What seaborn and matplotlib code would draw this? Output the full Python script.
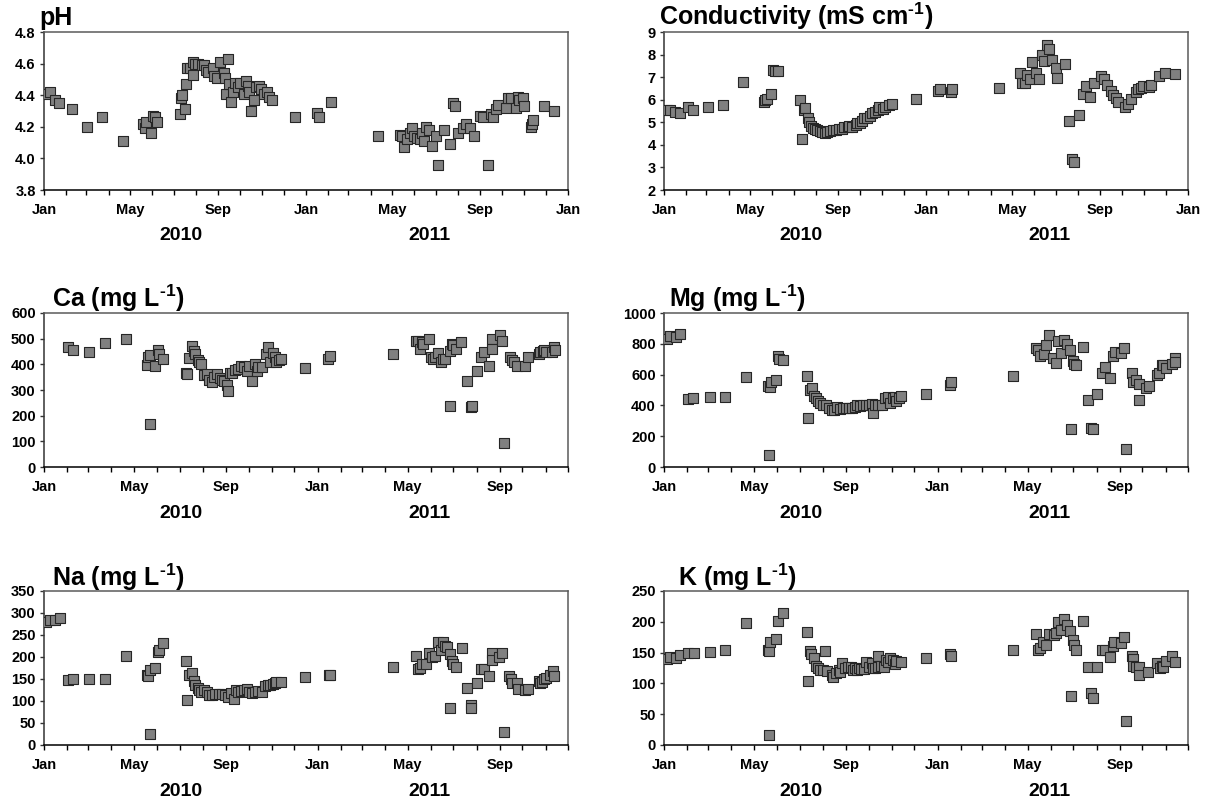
import numpy as np
import pandas as pd
import matplotlib
matplotlib.use("Agg")
import matplotlib.pyplot as plt
import matplotlib.dates as mdates
from matplotlib.ticker import FixedLocator, FormatStrFormatter
import seaborn as sns

# ---------------- data (days since 2010-01-01, values) ----------------
ph_days = [3, 8, 16, 21, 39, 60, 81, 110, 138, 141, 142, 149, 152, 154, 158, 190, 191, 192, 196, 198,
           199, 203, 207, 208, 211, 214, 220, 223, 226, 229, 235, 237, 241, 245, 251, 252, 253, 256, 258, 260,
           263, 266, 270, 273, 278, 281, 284, 285, 289, 293, 296, 299, 303, 306, 310, 313, 317, 349, 380, 383,
           400, 466, 496, 499, 502, 506, 510, 513, 516, 520, 524, 527, 530, 532, 536, 541, 546, 549, 557, 565,
           570, 572, 577, 584, 588, 594, 599, 608, 612, 618, 623, 626, 629, 632, 643, 647, 651, 658, 660, 662,
           668, 669, 678, 680, 681, 696, 711]
ph_vals = [4.41, 4.42, 4.37, 4.35, 4.31, 4.20, 4.26, 4.11, 4.22, 4.19, 4.23, 4.16, 4.27, 4.26, 4.23, 4.28, 4.38, 4.40, 4.31, 4.47,
           4.57, 4.57, 4.53, 4.61, 4.60, 4.60, 4.59, 4.59, 4.56, 4.55, 4.57, 4.52, 4.51, 4.61, 4.54, 4.51, 4.41, 4.63, 4.47, 4.36,
           4.42, 4.48, 4.45, 4.48, 4.41, 4.49, 4.46, 4.42, 4.30, 4.37, 4.45, 4.46, 4.44, 4.41, 4.42, 4.39, 4.37, 4.26, 4.29, 4.26,
           4.36, 4.14, 4.15, 4.14, 4.07, 4.12, 4.16, 4.19, 4.14, 4.13, 4.12, 4.16, 4.11, 4.20, 4.18, 4.08, 4.14, 3.96, 4.18, 4.09,
           4.35, 4.33, 4.16, 4.19, 4.22, 4.19, 4.14, 4.27, 4.26, 3.96, 4.28, 4.26, 4.31, 4.34, 4.32, 4.38, 4.38, 4.32, 4.39, 4.37,
           4.38, 4.33, 4.20, 4.22, 4.24, 4.33, 4.30]

cond_days = [4, 8, 15, 22, 33, 40, 61, 82, 110, 139, 141, 143, 149, 152, 155, 159, 190, 192, 195, 197,
             200, 202, 205, 208, 210, 213, 217, 220, 224, 227, 231, 235, 239, 244, 248, 251, 256, 258, 262, 267,
             269, 273, 276, 279, 283, 287, 290, 294, 298, 300, 305, 308, 313, 317, 351, 382, 385, 400, 401, 467,
             496, 499, 503, 506, 510, 513, 518, 523, 527, 529, 533, 537, 541, 546, 548, 558, 564, 569, 571, 578,
             584, 588, 594, 599, 609, 613, 617, 623, 626, 630, 633, 642, 646, 651, 658, 661, 665, 668, 675, 679,
             690, 698, 712]
cond_vals = [5.54, 5.54, 5.46, 5.39, 5.66, 5.54, 5.69, 5.76, 6.77, 5.91, 5.98, 6.03, 6.25, 7.32, 7.25, 7.29, 5.98, 4.27, 5.54, 5.64,
             5.17, 5.02, 4.83, 4.75, 4.72, 4.65, 4.62, 4.57, 4.53, 4.57, 4.62, 4.68, 4.68, 4.70, 4.72, 4.77, 4.80, 4.84, 4.77, 4.87,
             4.97, 4.97, 5.06, 5.17, 5.21, 5.29, 5.39, 5.46, 5.54, 5.66, 5.61, 5.69, 5.76, 5.80, 6.03, 6.40, 6.46, 6.36, 6.46, 6.50,
             7.20, 6.76, 6.73, 7.10, 6.92, 7.65, 7.20, 6.90, 7.99, 7.72, 8.44, 8.24, 7.77, 7.40, 6.95, 7.59, 5.06, 3.38, 3.23, 5.32,
             6.25, 6.61, 6.13, 6.76, 7.05, 6.92, 6.65, 6.40, 6.21, 6.06, 5.91, 5.69, 5.80, 6.03, 6.36, 6.46, 6.50, 6.61, 6.55, 6.65,
             7.05, 7.17, 7.14]

ca_days = [32, 39, 60, 81, 109, 137, 139, 141, 142, 148, 152, 154, 159, 190, 191, 194, 197, 200, 202, 205,
           207, 209, 213, 217, 220, 224, 227, 231, 235, 238, 240, 244, 245, 248, 251, 255, 259, 263, 267, 271,
           274, 277, 281, 284, 286, 291, 296, 299, 302, 305, 308, 310, 313, 316, 348, 379, 382, 465, 496, 499,
           501, 504, 506, 513, 516, 519, 522, 526, 529, 532, 535, 541, 541, 544, 546, 549, 556, 564, 569, 571,
           577, 583, 587, 593, 598, 598, 608, 611, 614, 621, 624, 627, 631, 642, 645, 660, 661, 665, 667, 669,
           678, 680, 681]
ca_vals = [467, 455, 447, 485, 497, 398, 427, 167, 437, 393, 455, 442, 422, 366, 362, 423, 470, 452, 442, 416,
           411, 401, 360, 363, 340, 330, 350, 363, 347, 339, 334, 321, 295, 365, 365, 379, 382, 395, 388, 375,
           395, 337, 401, 375, 388, 388, 442, 467, 410, 446, 427, 410, 416, 422, 385, 420, 433, 440, 490, 491,
           460, 488, 478, 497, 430, 422, 427, 445, 410, 422, 420, 237, 452, 480, 475, 460, 488, 337, 232, 236,
           375, 430, 450, 393, 497, 460, 513, 490, 92, 427, 415, 410, 395, 395, 430, 440, 447, 452, 455, 450,
           450, 467, 455]

mg_days = [4, 8, 16, 21, 32, 39, 61, 81, 109, 139, 140, 141, 143, 149, 152, 154, 159, 191, 192, 195,
           197, 200, 203, 205, 208, 212, 216, 220, 224, 227, 231, 235, 239, 243, 247, 251, 255, 257, 261, 265,
           269, 274, 277, 279, 282, 286, 291, 295, 299, 302, 306, 308, 310, 313, 316, 350, 381, 383, 466, 496,
           499, 502, 507, 510, 513, 519, 523, 526, 530, 534, 537, 542, 543, 545, 547, 549, 559, 565, 570, 572,
           578, 584, 588, 595, 599, 601, 610, 613, 616, 624, 625, 629, 633, 633, 643, 647, 658, 660, 664, 666,
           670, 677, 681, 682]
mg_vals = [830, 850, 845, 865, 440, 447, 452, 455, 583, 525, 75, 520, 555, 565, 720, 700, 695, 593, 315, 500,
           513, 460, 450, 430, 415, 405, 400, 385, 370, 368, 390, 375, 380, 385, 380, 385, 390, 400, 395, 405,
           400, 405, 410, 353, 400, 400, 405, 448, 452, 418, 450, 452, 428, 450, 460, 475, 530, 550, 592, 770,
           760, 720, 735, 790, 855, 710, 673, 820, 742, 822, 800, 760, 245, 690, 670, 665, 776, 435, 255, 248,
           477, 610, 650, 577, 722, 745, 742, 775, 118, 610, 555, 565, 540, 435, 510, 525, 600, 612, 665, 662,
           640, 670, 705, 685]

na_days = [3, 8, 15, 21, 32, 39, 60, 81, 109, 137, 139, 141, 142, 148, 152, 154, 159, 190, 191, 194,
           197, 200, 202, 205, 207, 210, 213, 217, 220, 224, 228, 233, 238, 241, 245, 249, 253, 256, 259, 263,
           267, 271, 274, 278, 282, 286, 291, 295, 299, 302, 305, 308, 310, 316, 348, 380, 382, 465, 496, 499,
           501, 504, 509, 513, 517, 522, 526, 529, 532, 535, 537, 541, 541, 544, 546, 549, 558, 564, 569, 570,
           577, 583, 587, 593, 598, 598, 607, 611, 614, 620, 623, 624, 631, 632, 642, 645, 660, 661, 664, 667,
           669, 675, 679, 680]
na_vals = [280, 285, 283, 288, 147, 149, 149, 151, 202, 160, 157, 25, 170, 176, 212, 215, 232, 192, 102, 160,
           163, 146, 136, 130, 124, 120, 124, 120, 114, 114, 116, 116, 116, 113, 110, 118, 104, 124, 120, 122,
           125, 127, 121, 119, 121, 123, 121, 133, 136, 136, 139, 141, 143, 143, 155, 160, 159, 177, 202, 173,
           175, 185, 184, 210, 200, 202, 234, 217, 233, 225, 222, 207, 85, 192, 185, 178, 220, 130, 90, 83,
           141, 173, 172, 156, 208, 193, 200, 210, 30, 157, 150, 141, 142, 128, 125, 127, 145, 141, 143, 150,
           152, 158, 168, 156]

k_days = [4, 8, 16, 22, 32, 40, 61, 81, 109, 139, 140, 140, 142, 149, 152, 159, 191, 192, 195, 196,
          200, 203, 205, 208, 212, 215, 217, 224, 226, 230, 233, 235, 238, 242, 246, 250, 252, 255, 257, 260,
          263, 267, 270, 274, 277, 279, 282, 285, 286, 290, 293, 296, 299, 302, 306, 308, 310, 316, 350, 381,
          383, 466, 496, 499, 501, 506, 510, 513, 520, 523, 526, 530, 534, 537, 542, 543, 545, 547, 549, 559,
          565, 570, 572, 578, 584, 588, 595, 599, 600, 610, 613, 616, 624, 625, 626, 629, 633, 633, 646, 658,
          662, 664, 666, 670, 677, 681]
k_vals = [140, 143, 142, 146, 149, 150, 151, 155, 198, 155, 152, 17, 167, 172, 202, 215, 183, 104, 152, 148,
          142, 128, 125, 122, 121, 153, 120, 113, 111, 117, 121, 118, 133, 125, 127, 126, 122, 125, 122, 125,
          124, 123, 135, 126, 133, 125, 125, 145, 126, 129, 127, 138, 134, 142, 138, 132, 136, 134, 142, 147,
          145, 155, 181, 154, 157, 168, 162, 180, 178, 182, 200, 187, 205, 195, 185, 79, 170, 163, 155, 202,
          127, 84, 77, 127, 155, 155, 143, 160, 168, 165, 176, 39, 144, 139, 128, 126, 126, 113, 118, 133,
          125, 128, 126, 136, 145, 134]

titles = ["pH", r"Conductivity (mS cm$^{\text{-}1}$)", r"Ca (mg L$^{\text{-}1}$)", r"Mg (mg L$^{\text{-}1}$)",
          r"Na (mg L$^{\text{-}1}$)", r"K (mg L$^{\text{-}1}$)"]
year_labels = ["2010", "2011"]
y_ticks = [[3.8, 4.0, 4.2, 4.4, 4.6, 4.8], [2, 3, 4, 5, 6, 7, 8, 9], [0, 100, 200, 300, 400, 500, 600],
           [0, 200, 400, 600, 800, 1000], [0, 50, 100, 150, 200, 250, 300, 350], [0, 50, 100, 150, 200, 250]]
x_ends = ["2012-01-01", "2012-01-01", "2011-12-01", "2011-12-01", "2011-12-01", "2011-12-01"]

# ---------------- style ----------------
sns.set_style("white")
plt.rcParams["font.family"] = ["Liberation Sans", "DejaVu Sans"]
plt.rcParams["font.weight"] = "bold"
plt.rcParams["text.color"] = "black"
plt.rcParams["xtick.color"] = "black"
plt.rcParams["ytick.color"] = "black"
plt.rcParams["axes.labelcolor"] = "black"
plt.rcParams["mathtext.fontset"] = "custom"
plt.rcParams["mathtext.rm"] = "Liberation Sans:bold"
plt.rcParams["mathtext.bf"] = "Liberation Sans:bold"
plt.rcParams["mathtext.it"] = "Liberation Sans:bold"
plt.rcParams["mathtext.default"] = "bf"

W, H = 1211, 807
fig = plt.figure(figsize=(W / 100, H / 100), dpi=100)
fig.patch.set_facecolor("white")

# pixel layout: (left, top, width, height)
boxes = [(44, 32, 524, 158), (664, 32, 524, 158),
         (44, 313, 524, 154), (664, 313, 524, 154),
         (44, 591, 524, 154), (664, 591, 524, 154)]
title_pos = [(39, 25), (659, 25), (52, 307), (669, 307), (52, 586), (678, 586)]

series = [(ph_days, ph_vals), (cond_days, cond_vals), (ca_days, ca_vals),
          (mg_days, mg_vals), (na_days, na_vals), (k_days, k_vals)]
fmts = ["%.1f", "%d", "%d", "%d", "%d", "%d"]

origin = pd.Timestamp("2010-01-01")
for i, ((days, vals), (l, t, w, h)) in enumerate(zip(series, boxes)):
    ax = fig.add_axes([l / W, 1 - (t + h) / H, w / W, h / H])
    df = pd.DataFrame({"date": origin + pd.to_timedelta(days, unit="D"), "value": vals})
    sns.scatterplot(data=df, x="date", y="value", ax=ax, marker="s", s=42,
                    color="#808080", edgecolor="#262626", linewidth=0.8, zorder=3)
    ax.set_xlim(origin, pd.Timestamp(x_ends[i]))
    yt = y_ticks[i]
    ax.set_ylim(yt[0], yt[-1])
    ax.yaxis.set_major_locator(FixedLocator(yt))
    ax.yaxis.set_major_formatter(FormatStrFormatter(fmts[i]))
    ax.xaxis.set_major_locator(mdates.MonthLocator(bymonth=[1, 5, 9]))
    ax.xaxis.set_major_formatter(mdates.DateFormatter("%b"))
    ax.xaxis.set_minor_locator(mdates.MonthLocator())
    ax.set_xlabel("")
    ax.set_ylabel("")
    ax.tick_params(axis="x", which="both", direction="out", length=3.5, width=1.0,
                   color="black", labelcolor="black", bottom=True, labelsize=10.5, pad=6)
    ax.tick_params(axis="y", which="major", direction="out", length=3, width=1.0,
                   color="#333333", labelcolor="black", left=True, labelsize=10.5, pad=3)
    for lab in ax.get_xticklabels() + ax.get_yticklabels():
        lab.set_fontweight("bold")
    for side, col in [("left", "#333333"), ("top", "#5a5a5a"), ("right", "#5a5a5a"), ("bottom", "black")]:
        ax.spines[side].set_visible(True)
        ax.spines[side].set_color(col)
        ax.spines[side].set_linewidth(1.1)
    ax.grid(False)
    # year labels
    for frac, yl in zip([0.261, 0.735], year_labels):
        fig.text((l + frac * w) / W, 1 - (t + h + 46) / H, yl, ha="center", va="center",
                 fontsize=14, fontweight="bold", color="black")
    tx, ty = title_pos[i]
    fig.text(tx / W, 1 - ty / H, titles[i], ha="left", va="baseline", fontsize=18,
             fontweight="bold", color="black")

fig.savefig("out.png", dpi=100, facecolor="white")
